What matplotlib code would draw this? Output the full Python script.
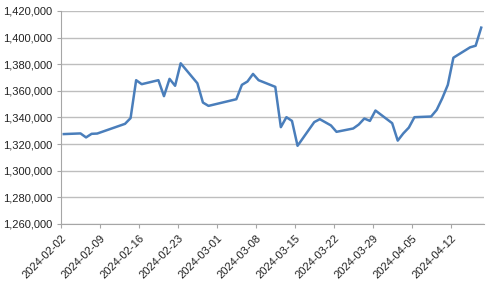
import pandas as pd
import matplotlib
matplotlib.use("Agg")
from matplotlib import pyplot as plt
import matplotlib.dates as mdates
import matplotlib.ticker as mticker

# values (vertices of the line)
dates = ["2024-02-02", "2024-02-05", "2024-02-06", "2024-02-07", "2024-02-08",
         "2024-02-13", "2024-02-14", "2024-02-15", "2024-02-16", "2024-02-19",
         "2024-02-20", "2024-02-21", "2024-02-22", "2024-02-23", "2024-02-26",
         "2024-02-27", "2024-02-28", "2024-03-04", "2024-03-05", "2024-03-06",
         "2024-03-07", "2024-03-08", "2024-03-11", "2024-03-12", "2024-03-13",
         "2024-03-14", "2024-03-15", "2024-03-18", "2024-03-19", "2024-03-21",
         "2024-03-22", "2024-03-25", "2024-03-26", "2024-03-27", "2024-03-28",
         "2024-03-29", "2024-04-01", "2024-04-02", "2024-04-03", "2024-04-04",
         "2024-04-05", "2024-04-08", "2024-04-09", "2024-04-10", "2024-04-11",
         "2024-04-12", "2024-04-15", "2024-04-16", "2024-04-17"]
values = [1327500, 1328000, 1325000, 1327700, 1327900,
          1335200, 1339500, 1368000, 1365000, 1368000,
          1356000, 1369000, 1363800, 1380700, 1365700,
          1351200, 1348700, 1353700, 1364500, 1367000,
          1372700, 1368000, 1363000, 1332700, 1340200,
          1337400, 1318700, 1336500, 1338700, 1334000,
          1329200, 1331700, 1334700, 1339200, 1337400,
          1345200, 1335700, 1322600, 1328000, 1332400,
          1340200, 1340700, 1345700, 1354400, 1364500,
          1384900, 1392700, 1393900, 1407500]

tick_dates = pd.date_range("2024-02-02", "2024-04-12", freq="7D")

plt.rcParams['font.family'] = ['Liberation Sans', 'DejaVu Sans']

df = pd.DataFrame({'Date': pd.to_datetime(dates), 'Value': values})

fig = plt.figure(figsize=(5, 2.82), dpi=100)
ax1 = fig.add_axes([0.122, 0.206, 0.846, 0.755])

# Excel centres each point within its day
ax1.plot(df['Date'] + pd.Timedelta(hours=12), df['Value'], color='#4A7EBB', linewidth=1.8)

ax1.set_xlim(pd.Timestamp("2024-02-02"), pd.Timestamp("2024-04-18"))
ax1.set_ylim(1260000, 1420000)
ax1.yaxis.set_major_locator(mticker.MultipleLocator(20000))
ax1.yaxis.set_major_formatter(mticker.FuncFormatter(lambda v, p: f"{int(v):,}"))
ax1.set_xticks(tick_dates)
ax1.xaxis.set_major_formatter(mdates.DateFormatter("%Y-%m-%d"))

ax1.grid(True, axis='y', color='#BEBEBE', linewidth=1)
ax1.set_axisbelow(True)
for s in ['top', 'right']:
    ax1.spines[s].set_visible(False)
for s in ['left', 'bottom']:
    ax1.spines[s].set_color('#A6A6A6')
ax1.tick_params(axis='both', colors='#A6A6A6', labelcolor='#222222', labelsize=8, length=3, width=0.8)
plt.setp(ax1.get_xticklabels(), rotation=45, ha='right', rotation_mode='anchor')

fig.savefig("out.png", dpi=100)
